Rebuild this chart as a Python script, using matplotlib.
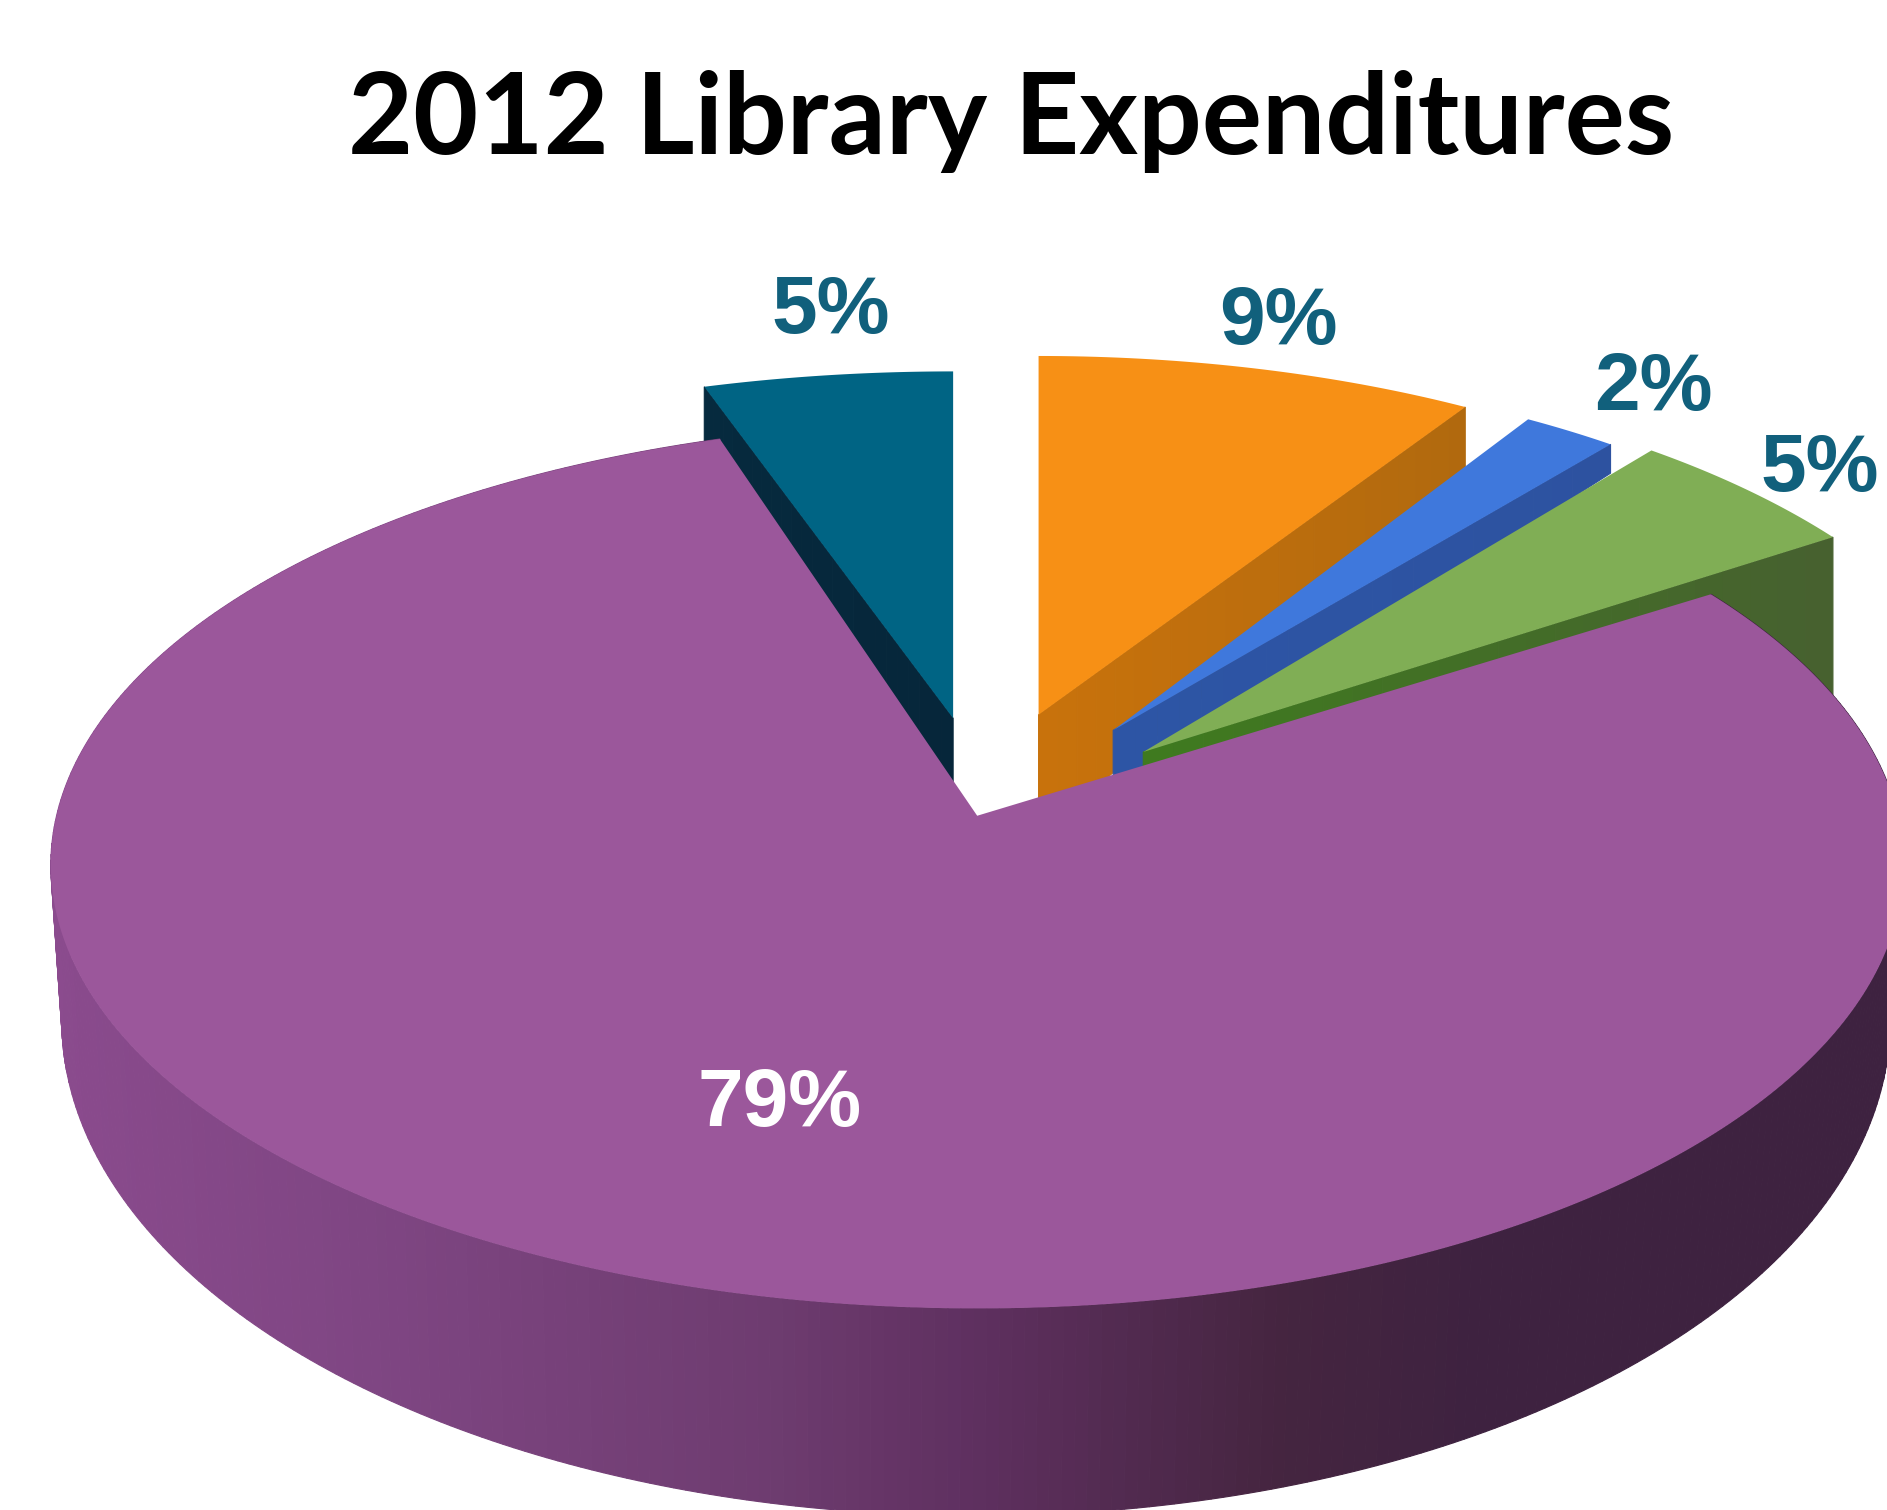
import matplotlib
matplotlib.use("Agg")
import matplotlib.pyplot as plt
from matplotlib.colors import LinearSegmentedColormap, to_rgb
from matplotlib.patches import Polygon
import numpy as np

# share of spending per slice, clockwise, the last one is the big remainder
values = [5, 9, 2, 5, 79]

face_colors = ["#006484", "#f79015", "#3f78dc", "#80ae55", "#9b579b"]
# radial wall colours, (inner end, outer end)
wall_colors = [
    ("#06263a", "#062a3e"),
    ("#c8720c", "#b0690e"),
    ("#2d55a5", "#2d52a0"),
    ("#3f7a1f", "#476030"),
]

# projection of the unit disc onto the page
PERSP = 0.111
TOP = dict(ax=812, ay=678, a=765, b=364)
BOTTOM = dict(ax=811, ay=802, a=755, b=407)

# pulled out slices: apex, squeeze in x and y, wall height at the apex and rim
apexes = [(792, 597), (863, 594), (925, 607), (950, 625)]
squeeze = [(0.967, 0.88), (0.946, 0.91), (0.92, 0.92), (0.94, 0.97)]
wall_height = [(54, 51), (100, 56), (50, 24), (14, 140)]

# text baselines
label_pos = [(690, 277), (1062, 286), (1374, 341), (1512, 408), (648, 936)]
label_colors = ["#11607c", "#11607c", "#11607c", "#11607c", "white"]


def project(theta, r, ax, ay, a, b):
    x = r * np.sin(theta)
    y = r * np.cos(theta)
    w = 1 + PERSP * y
    return ax + a * x / w, ay - b * y / w


def blend(c1, c2, t):
    c1, c2 = np.array(to_rgb(c1)), np.array(to_rgb(c2))
    return tuple(c1 + (c2 - c1) * t)


fig = plt.figure(figsize=(18.87, 15.10), dpi=100, facecolor="white")
ax = fig.add_axes([0, 0, 1, 1])
ax.set_xlim(0, 1568)
ax.set_ylim(1255, 0)
ax.axis("off")

# angles run clockwise from 12 o'clock, first slice ends exactly there
edges = np.deg2rad(np.cumsum([0] + values) * 3.6 - values[0] * 3.6)

# the four small slices, back to front
for i in range(4):
    t0, t1 = edges[i], edges[i + 1]
    apex_x, apex_y = apexes[i]
    sx, sy = squeeze[i]
    a = TOP["a"] * sx
    b = TOP["b"] * sy
    h0, h1 = wall_height[i]

    # the wall that faces the viewer: left side for the first slice
    wall_t = t0 if i == 0 else t1
    rs = np.linspace(0, 1, 25)
    wx, wy = project(wall_t, rs, apex_x, apex_y, a, b)
    hs = h0 + (h1 - h0) * rs
    for j in range(len(rs) - 1):
        quad = [
            (wx[j], wy[j]),
            (wx[j + 1], wy[j + 1]),
            (wx[j + 1], wy[j + 1] + hs[j + 1]),
            (wx[j], wy[j] + hs[j]),
        ]
        c = blend(wall_colors[i][0], wall_colors[i][1], rs[j])
        ax.add_patch(Polygon(quad, facecolor=c, edgecolor=c, lw=0.8))

    ts = np.linspace(t0, t1, 40)
    fx, fy = project(ts, 1.0, apex_x, apex_y, a, b)
    pts = [(apex_x, apex_y)] + list(zip(fx, fy))
    ax.add_patch(Polygon(pts, facecolor=face_colors[i], edgecolor="none"))

# outer wall of the big slice, light on the left and dark to the right
shade = LinearSegmentedColormap.from_list(
    "side",
    [
        (0.0, "#8b4b8e"),
        (0.2, "#7f4683"),
        (0.4, "#6e3c70"),
        (0.5, "#5f3060"),
        (0.65, "#452540"),
        (0.75, "#3e2240"),
        (1.0, "#3e2240"),
    ],
)
t0, t1 = edges[4], edges[5]
ts = np.linspace(t0, t1, 400)
tx, ty = project(ts, 1.0, **TOP)
bx, by = project(ts, 1.0, **BOTTOM)
for j in range(len(ts) - 1):
    c = shade((1 + np.sin(ts[j])) / 2)
    quad = [(tx[j], ty[j]), (tx[j + 1], ty[j + 1]), (bx[j + 1], by[j + 1]), (bx[j], by[j])]
    ax.add_patch(Polygon(quad, facecolor=c, edgecolor=c, lw=0.8))

pts = [(TOP["ax"], TOP["ay"])] + list(zip(tx, ty))
ax.add_patch(Polygon(pts, facecolor=face_colors[4], edgecolor="none"))

ax.text(
    840, 128, "2012 Library Expenditures",
    ha="center", va="baseline", fontsize=81, fontweight="bold",
    family="Lato", color="black",
)

for v, pos, c in zip(values, label_pos, label_colors):
    ax.text(
        pos[0], pos[1], f"{v}%",
        ha="center", va="baseline", fontsize=59, fontweight="bold",
        family="Liberation Sans", color=c,
    )

fig.savefig("out.png", dpi=100)
plt.close(fig)
